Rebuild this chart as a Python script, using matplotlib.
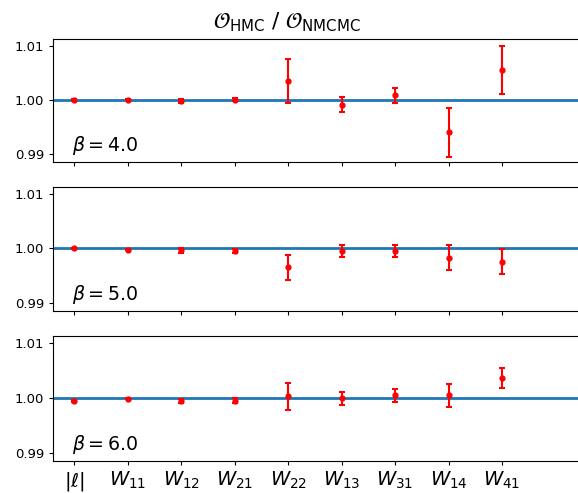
import numpy as np
import matplotlib
matplotlib.use('Agg')
import matplotlib.pyplot as plt

# observables on the x axis
labels = [r'$|\ell|$', r'$W_{11}$', r'$W_{12}$', r'$W_{21}$', r'$W_{22}$',
          r'$W_{13}$', r'$W_{31}$', r'$W_{14}$', r'$W_{41}$']

betas = [4.0, 5.0, 6.0]

# ratio O_HMC / O_NMCMC and its error, one list per beta
ratio_b4 = [1.0000, 1.0000, 0.9998, 1.0000, 1.0035, 0.9991, 1.0008, 0.9940, 1.0055]
err_b4 = [0.0001, 0.0001, 0.0003, 0.0003, 0.0040, 0.0014, 0.0014, 0.0045, 0.0045]

ratio_b5 = [1.0000, 0.99975, 0.99963, 0.9995, 0.99655, 0.99945, 0.9995, 0.9983, 0.99757]
err_b5 = [0.0001, 0.0001, 0.0005, 0.0004, 0.0023, 0.0011, 0.0011, 0.0023, 0.0023]

ratio_b6 = [0.99938, 0.99982, 0.99945, 0.9995, 1.00024, 0.99988, 1.00042, 1.00048, 1.00357]
err_b6 = [0.0002, 0.0001, 0.0004, 0.0004, 0.0024, 0.0012, 0.0011, 0.0021, 0.0018]

ratios = [ratio_b4, ratio_b5, ratio_b6]
errors = [err_b4, err_b5, err_b6]

W, H = 578, 493
fig = plt.figure(figsize=(W / 100, H / 100), dpi=100)

# axes boxes in pixels (left, top, bottom); right side runs past the figure
boxes = [(53, 39, 162), (53, 187, 311), (53, 336, 461)]
x = np.arange(len(labels))

for k, (left, top, bottom) in enumerate(boxes):
    ax = fig.add_axes([left / W, 1 - bottom / H, 556 / W, (bottom - top) / H])
    ax.axhline(1.0, color='tab:blue', lw=2, zorder=1)
    ax.errorbar(x, ratios[k], yerr=errors[k], fmt='o', color='red', ms=3.5,
                elinewidth=1.5, capsize=2.5, capthick=1.5, zorder=3)
    ax.set_xlim(-0.4, 10.0)
    ax.set_ylim(0.98855, 1.0112)
    ax.set_yticks([0.99, 1.00, 1.01])
    ax.set_yticklabels(['0.99', '1.00', '1.01'])
    ax.set_xticks(x)
    ax.tick_params(labelsize=9.5, length=3, width=0.8)
    if k == 2:
        ax.set_xticklabels(labels, fontsize=14)
    else:
        ax.set_xticklabels([])
    ax.text(-0.05, 0.9906, r'$\beta = %.1f$' % betas[k], fontsize=13.7,
            ha='left', va='baseline')
    for s in ax.spines.values():
        s.set_linewidth(0.8)

fig.text(287 / W, 1 - 22 / H, r'$\mathcal{O}_{\mathrm{HMC}}$ / $\mathcal{O}_{\mathrm{NMCMC}}$',
         fontsize=15.5, ha='center', va='center')

fig.savefig('out.png', dpi=100)
